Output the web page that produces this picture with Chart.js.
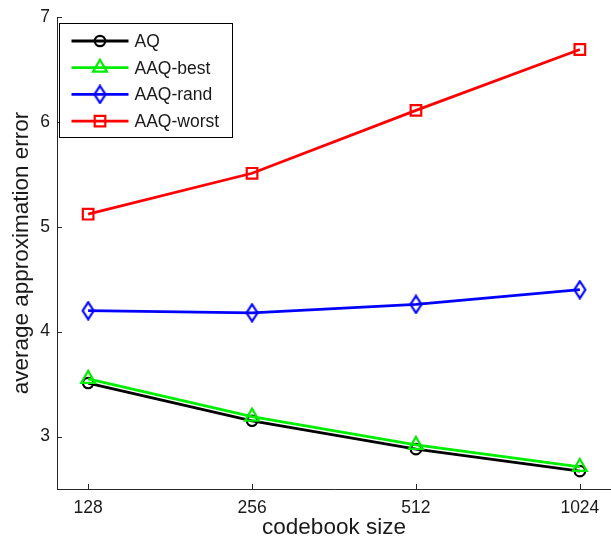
<!DOCTYPE html>
<html>
<head>
<meta charset="utf-8">
<script src="https://cdn.jsdelivr.net/npm/chart.js@4.4.1/dist/chart.umd.min.js"></script>
<style>
  html, body { margin: 0; padding: 0; background: #fff; }
  canvas { display: block; }
</style>
</head>
<body>
<canvas id="chart" width="611" height="541"></canvas>
<script>
(function () {
    'use strict';

    // ── DATA ───────────────────────────────────────────────────────────────
    const CODEBOOK   = ['128', '256', '512', '1024'];
    const X_POS      = [1, 2, 3, 4];
    const Y_TICKS    = [3, 4, 5, 6, 7];

    const AQ         = [3.51, 3.15, 2.88, 2.67];
    const AAQ_BEST   = [3.55, 3.19, 2.92, 2.71];
    const AAQ_RAND   = [4.20, 4.18, 4.26, 4.40];
    const AAQ_WORST  = [5.12, 5.51, 6.11, 6.69];

    const FONT = 'Liberation Sans, Arial, Helvetica, sans-serif';
    const INK  = '#1a1a1a';

    const pts = arr => arr.map((v, i) => ({ x: X_POS[i], y: v }));

    // matlab diamond is taller than wide, so draw it on a small canvas
    function diamond(color) {
        const c = document.createElement('canvas');
        c.width = 15; c.height = 20;
        const g = c.getContext('2d');
        g.strokeStyle = color;
        g.lineWidth = 2.2;
        g.beginPath();
        g.moveTo(7.5, 1.5);
        g.lineTo(13, 10);
        g.lineTo(7.5, 18.5);
        g.lineTo(2, 10);
        g.closePath();
        g.stroke();
        return c;
    }

    function series(label, values, color, style, radius, order) {
        return {
            label,
            data: pts(values),
            borderColor: color,
            backgroundColor: color,
            borderWidth: 2.8,
            pointStyle: style,
            pointRadius: radius,
            pointBorderWidth: 2.2,
            pointBorderColor: color,
            pointBackgroundColor: 'rgba(255,255,255,0)',
            pointHoverRadius: radius,
            tension: 0,
            fill: false,
            order
        };
    }

    // ── INWARD TICK MARKS (matlab style) ───────────────────────────────────
    const innerTicks = {
        id: 'innerTicks',
        afterDraw(chart) {
            const { ctx, chartArea, scales } = chart;
            ctx.save();
            ctx.strokeStyle = '#262626';
            ctx.lineWidth = 1;
            ctx.beginPath();
            scales.x.ticks.forEach(t => {
                const px = Math.round(scales.x.getPixelForValue(t.value)) + 0.5;
                ctx.moveTo(px, chartArea.bottom);
                ctx.lineTo(px, chartArea.bottom - 5);
            });
            scales.y.ticks.forEach(t => {
                const py = Math.round(scales.y.getPixelForValue(t.value)) + 0.5;
                ctx.moveTo(chartArea.left, py);
                ctx.lineTo(chartArea.left + 5, py);
            });
            ctx.stroke();
            ctx.restore();
        }
    };

    // ── BOXED LEGEND INSIDE PLOT ───────────────────────────────────────────
    const boxLegend = {
        id: 'boxLegend',
        afterDraw(chart) {
            const { ctx, chartArea } = chart;
            const bx = chartArea.left + 2.5, by = chartArea.top + 6.5;
            const bw = 173, bh = 114;
            ctx.save();
            ctx.fillStyle = '#fff';
            ctx.fillRect(bx, by, bw, bh);
            ctx.strokeStyle = '#000';
            ctx.lineWidth = 1;
            ctx.strokeRect(bx, by, bw, bh);

            ctx.font = '17.5px ' + FONT;
            ctx.textBaseline = 'middle';
            ctx.textAlign = 'left';
            chart.data.datasets.forEach((ds, i) => {
                const y = by + 17.5 + i * 26.7;
                ctx.strokeStyle = ds.borderColor;
                ctx.lineWidth = ds.borderWidth;
                ctx.beginPath();
                ctx.moveTo(bx + 12, y);
                ctx.lineTo(bx + 69, y);
                ctx.stroke();
                ctx.lineWidth = ds.pointBorderWidth;
                ctx.fillStyle = 'rgba(255,255,255,0)';
                Chart.helpers.drawPoint(ctx, {
                    pointStyle: ds.pointStyle,
                    radius: ds.pointRadius,
                    rotation: 0,
                    borderWidth: ds.pointBorderWidth
                }, bx + 40.5, y);
                ctx.fillStyle = INK;
                ctx.fillText(ds.label, bx + 75, y + 1);
            });
            ctx.restore();
        }
    };

    // ── CHART ──────────────────────────────────────────────────────────────
    new Chart(document.getElementById('chart'), {
        type: 'line',
        data: {
            datasets: [
                series('AQ',        AQ,        '#000000', 'circle',          5.2, 4),
                series('AAQ-best',  AAQ_BEST,  '#00ee00', 'triangle',        8,   3),
                series('AAQ-rand',  AAQ_RAND,  '#0000ff', diamond('#0000ff'), 7,  2),
                series('AAQ-worst', AAQ_WORST, '#ff0000', 'rect',            7.5, 1)
            ]
        },
        options: {
            responsive: false,
            animation: false,
            events: [],
            layout: { autoPadding: false, padding: { top: 17, right: 0, left: 0, bottom: 0 } },
            plugins: {
                legend: { display: false },
                tooltip: { enabled: false }
            },
            scales: {
                x: {
                    type: 'linear',
                    min: 0.81,
                    max: 4.19,
                    afterBuildTicks: s => { s.ticks = X_POS.map(v => ({ value: v })); },
                    afterFit: s => { s.height = 52; s.paddingLeft = 0; s.paddingRight = 0; },
                    ticks: {
                        callback: v => CODEBOOK[X_POS.indexOf(v)] || '',
                        font: { family: FONT, size: 17.5 },
                        color: INK,
                        padding: 9,
                        maxRotation: 0,
                        autoSkip: false
                    },
                    grid: { display: false, drawTicks: false },
                    border: { display: true, color: '#262626', width: 1 },
                    title: {
                        display: true,
                        text: 'codebook size',
                        font: { family: FONT, size: 22.5 },
                        color: INK,
                        padding: { top: 0, bottom: 0 }
                    }
                },
                y: {
                    type: 'linear',
                    min: 2.5,
                    max: 7,
                    afterBuildTicks: s => { s.ticks = Y_TICKS.map(v => ({ value: v })); },
                    afterFit: s => { s.width = 57; s.paddingTop = 0; s.paddingBottom = 0; },
                    ticks: {
                        callback: v => String(v),
                        font: { family: FONT, size: 17.5 },
                        color: INK,
                        padding: 7
                    },
                    grid: { display: false, drawTicks: false },
                    border: { display: true, color: '#262626', width: 1 },
                    title: {
                        display: true,
                        text: 'average approximation error',
                        font: { family: FONT, size: 22.5 },
                        color: INK,
                        padding: { top: 8, bottom: 0 }
                    }
                }
            }
        },
        plugins: [innerTicks, boxLegend]
    });

})();
</script>
</body>
</html>
